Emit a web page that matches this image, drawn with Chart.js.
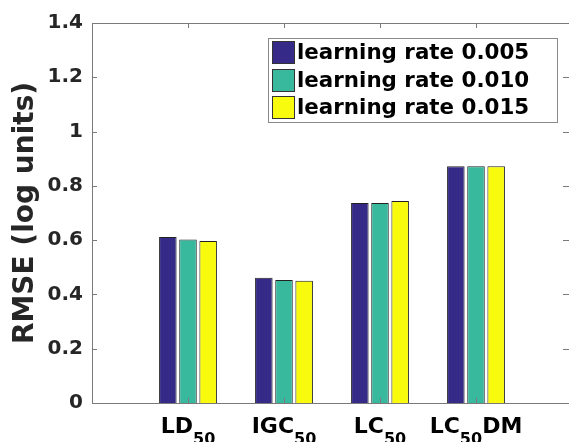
<!DOCTYPE html>
<html>
<head>
<meta charset="utf-8">
<script src="https://cdn.jsdelivr.net/npm/chart.js@4.4.0/dist/chart.umd.min.js"></script>
<style>
html,body{margin:0;padding:0;background:#fff;overflow:hidden;}
canvas{display:block;}
</style>
</head>
<body>
<canvas id="myChart" width="578" height="442"></canvas>
<script>
// label parts: [main, subscript, tail]
const categories = [['LD', '50', ''], ['IGC', '50', ''], ['LC', '50', ''], ['LC', '50', 'DM']];
const seriesLabels = ['learning rate 0.005', 'learning rate 0.010', 'learning rate 0.015'];
const rate005 = [0.612, 0.461, 0.737, 0.872];
const rate010 = [0.602, 0.453, 0.737, 0.872];
const rate015 = [0.597, 0.450, 0.744, 0.872];
const yTicks = [0, 0.2, 0.4, 0.6, 0.8, 1, 1.2, 1.4];

const FONT = "'DejaVu Sans', sans-serif";
const colors = ['#352a87', '#38b99e', '#f9fb0e'];
const axisColor = '#7a7a7a';

// matlab leaves one empty slot each side of the groups
const pad = v => [null, ...v, null];
const labels = ['', ...categories.map(c => c.join('')), ''];

const matlabBox = {
    id: 'matlabBox',
    afterDraw(chart){
        const ctx = chart.ctx;
        const a = chart.chartArea;
        const x = chart.scales.x, y = chart.scales.y;
        ctx.save();
        ctx.strokeStyle = axisColor;
        ctx.lineWidth = 1;
        ctx.beginPath();
        ctx.moveTo(a.left, a.top + 0.5); ctx.lineTo(a.right, a.top + 0.5);
        ctx.moveTo(a.right - 0.5, a.top); ctx.lineTo(a.right - 0.5, a.bottom);
        // inward ticks
        yTicks.forEach(v => {
            const py = Math.round(y.getPixelForValue(v)) + 0.5;
            ctx.moveTo(a.left, py); ctx.lineTo(a.left + 5, py);
            ctx.moveTo(a.right, py); ctx.lineTo(a.right - 9, py);
        });
        categories.forEach((c, i) => {
            const px = Math.round(x.getPixelForValue(i + 1)) + 0.5;
            ctx.moveTo(px, a.top); ctx.lineTo(px, a.top + 5);
            ctx.moveTo(px, a.bottom); ctx.lineTo(px, a.bottom - 5);
        });
        ctx.stroke();

        // x labels with subscripts
        ctx.fillStyle = '#000';
        ctx.textBaseline = 'alphabetic';
        ctx.textAlign = 'left';
        const big = 'bold 22px ' + FONT, small = 'bold 16px ' + FONT;
        categories.forEach((c, i) => {
            ctx.font = big;
            const w0 = ctx.measureText(c[0]).width, w2 = ctx.measureText(c[2]).width;
            ctx.font = small;
            const w1 = ctx.measureText(c[1]).width;
            const cx = x.getPixelForValue(i + 1);
            let sx = cx - (w0 + w1 + w2) / 2;
            const base = a.bottom + 30;
            ctx.font = big; ctx.fillText(c[0], sx, base); sx += w0;
            ctx.font = small; ctx.fillText(c[1], sx, base + 11); sx += w1;
            ctx.font = big; ctx.fillText(c[2], sx, base);
        });

        // legend box inside the axes
        const lx = 268, ly = 38, lw = 289, lh = 84;
        ctx.fillStyle = '#fff';
        ctx.fillRect(lx, ly, lw, lh);
        ctx.strokeStyle = '#8a8a8a';
        ctx.strokeRect(lx + 0.5, ly + 0.5, lw, lh);
        ctx.font = 'bold 21.4px ' + FONT;
        ctx.textBaseline = 'middle';
        chart.data.datasets.forEach((ds, i) => {
            const cy = Math.round(52 + i * 27.5);
            ctx.fillStyle = ds.backgroundColor;
            ctx.fillRect(272, cy - 11, 22, 22);
            ctx.strokeStyle = '#333';
            ctx.strokeRect(272.5, cy - 10.5, 22, 22);
            ctx.fillStyle = '#000';
            ctx.fillText(ds.label, 297, cy + 1);
        });
        ctx.restore();
    }
};

const myChart = new Chart(document.getElementById('myChart'), {
    type: 'bar',
    data: {
        labels: labels,
        datasets: [rate005, rate010, rate015].map((d, i) => ({
            label: seriesLabels[i],
            data: pad(d),
            backgroundColor: colors[i],
            borderColor: '#222',
            borderWidth: 1,
            categoryPercentage: 0.63,
            barPercentage: 0.87
        }))
    },
    options: {
        responsive: false,
        animation: false,
        layout: {padding: {top: 23, bottom: 39, right: 6, left: 0}},
        plugins: {legend: {display: false}, tooltip: {enabled: false}},
        scales: {
            x: {
                offset: false,
                grid: {display: false, drawTicks: false},
                border: {display: true, color: axisColor},
                ticks: {display: false}
            },
            y: {
                min: 0, max: 1.4,
                afterFit: s => { s.width = 92; },
                afterBuildTicks: s => { s.ticks = yTicks.map(v => ({value: v})); },
                grid: {display: false, drawTicks: false},
                border: {display: true, color: axisColor},
                ticks: {
                    padding: 9,
                    color: '#262626',
                    font: {family: FONT, size: 20, weight: 'bold'},
                    callback: v => String(Number(v.toFixed(1)))
                },
                title: {
                    display: true,
                    text: 'RMSE (log units)',
                    color: '#262626',
                    padding: {top: 9, bottom: 0},
                    font: {family: FONT, size: 28, weight: 'bold'}
                }
            }
        }
    },
    plugins: [matlabBox]
});
</script>
</body>
</html>
